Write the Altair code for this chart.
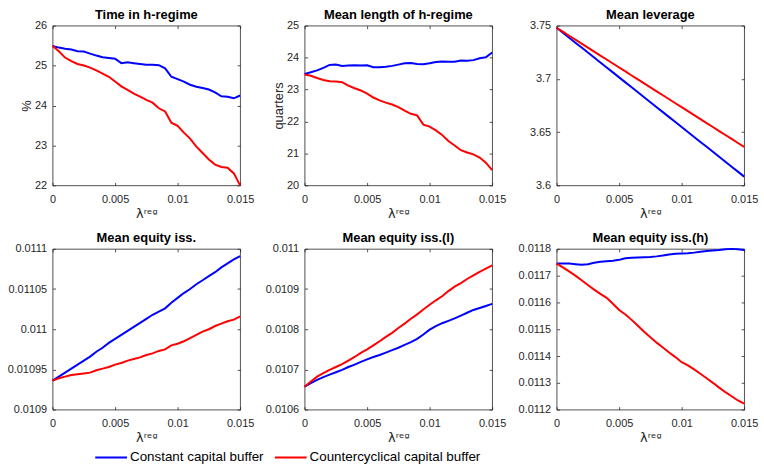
import altair as alt
import pandas as pd

# ---------------- data ----------------
X = [0, 0.0005, 0.001, 0.0015, 0.002, 0.0025, 0.003, 0.0035, 0.004, 0.0045,
     0.005, 0.0055, 0.006, 0.0065, 0.007, 0.0075, 0.008, 0.0085, 0.009, 0.0095,
     0.01, 0.0105, 0.011, 0.0115, 0.012, 0.0125, 0.013, 0.0135, 0.014, 0.0145, 0.015]
SERIES = ["Constant capital buffer", "Countercyclical capital buffer"]
COLORS = ["#0000ff", "#ff0000"]
XTICKS = [0, 0.005, 0.01, 0.015]

TIME_CONST = [25.49, 25.45, 25.42, 25.40, 25.36, 25.35, 25.30, 25.25, 25.21, 25.19,
              25.17, 25.06, 25.08, 25.06, 25.04, 25.02, 25.02, 25.01, 24.93, 24.72,
              24.66, 24.60, 24.52, 24.47, 24.44, 24.40, 24.33, 24.23, 24.22, 24.18, 24.25]
TIME_CCB = [25.49, 25.36, 25.20, 25.11, 25.04, 25.00, 24.95, 24.88, 24.80, 24.72,
            24.60, 24.48, 24.39, 24.30, 24.22, 24.14, 24.07, 23.93, 23.85, 23.57,
            23.49, 23.32, 23.17, 22.97, 22.81, 22.65, 22.52, 22.46, 22.44, 22.30, 22.00]

LEN_CONST = [23.49, 23.54, 23.60, 23.68, 23.77, 23.78, 23.74, 23.75, 23.76, 23.75,
             23.76, 23.70, 23.70, 23.71, 23.74, 23.78, 23.82, 23.83, 23.80, 23.79,
             23.82, 23.86, 23.88, 23.87, 23.87, 23.91, 23.90, 23.92, 23.98, 24.01, 24.16]
LEN_CCB = [23.47, 23.43, 23.36, 23.30, 23.26, 23.25, 23.23, 23.12, 23.04, 22.97,
           22.87, 22.75, 22.66, 22.59, 22.53, 22.45, 22.34, 22.24, 22.19, 21.90,
           21.84, 21.72, 21.58, 21.39, 21.25, 21.10, 21.03, 20.97, 20.87, 20.71, 20.48]

LEV_CONST = [3.7480, 3.7433, 3.7387, 3.7340, 3.7294, 3.7247, 3.7200, 3.7154, 3.7107, 3.7061,
             3.7014, 3.6967, 3.6921, 3.6874, 3.6828, 3.6781, 3.6734, 3.6688, 3.6641, 3.6595,
             3.6548, 3.6501, 3.6455, 3.6408, 3.6362, 3.6315, 3.6268, 3.6222, 3.6175, 3.6129, 3.6082]
LEV_CCB = [3.7480, 3.7443, 3.7405, 3.7368, 3.7331, 3.7294, 3.7256, 3.7219, 3.7182, 3.7144,
           3.7107, 3.7070, 3.7032, 3.6995, 3.6958, 3.6921, 3.6883, 3.6846, 3.6809, 3.6771,
           3.6734, 3.6697, 3.6659, 3.6622, 3.6585, 3.6548, 3.6510, 3.6473, 3.6436, 3.6398, 3.6361]

EQ_CONST = [0.010936, 0.010941, 0.010946, 0.010951, 0.010956, 0.010961, 0.010966, 0.010972,
            0.010977, 0.010983, 0.010988, 0.010993, 0.010998, 0.011003, 0.011008, 0.011013,
            0.011018, 0.011022, 0.011026, 0.011033, 0.011039, 0.011045, 0.011050, 0.011056,
            0.011061, 0.011066, 0.011071, 0.011077, 0.011082, 0.011087, 0.011091]
EQ_CCB = [0.010936, 0.010939, 0.010941, 0.010943, 0.010944, 0.010945, 0.010946, 0.010949,
          0.010951, 0.010953, 0.010956, 0.010958, 0.010961, 0.010963, 0.010965, 0.010968,
          0.010970, 0.010973, 0.010975, 0.010980, 0.010982, 0.010985, 0.010989, 0.010993,
          0.010997, 0.011000, 0.011004, 0.011007, 0.011010, 0.011012, 0.011016]

EQL_CONST = [0.010657, 0.010666, 0.010674, 0.010681, 0.010687, 0.010693, 0.010699, 0.010706,
             0.010712, 0.010719, 0.010725, 0.010731, 0.010736, 0.010742, 0.010748, 0.010754,
             0.010761, 0.010768, 0.010776, 0.010787, 0.010799, 0.010808, 0.010815, 0.010821,
             0.010827, 0.010834, 0.010841, 0.010848, 0.010853, 0.010858, 0.010863]
EQL_CCB = [0.010657, 0.010670, 0.010682, 0.010691, 0.010699, 0.010706, 0.010713, 0.010722,
           0.010731, 0.010741, 0.010750, 0.010760, 0.010770, 0.010781, 0.010791, 0.010803,
           0.010814, 0.010826, 0.010837, 0.010849, 0.010861, 0.010872, 0.010882, 0.010895,
           0.010906, 0.010915, 0.010925, 0.010934, 0.010943, 0.010951, 0.010959]

EQH_CONST = [0.011745, 0.011745, 0.011745, 0.011743, 0.011741, 0.011743, 0.011748, 0.011752,
             0.011754, 0.011756, 0.011759, 0.011765, 0.011767, 0.011768, 0.011769, 0.011770,
             0.011772, 0.011775, 0.011779, 0.011782, 0.011783, 0.011784, 0.011786, 0.011789,
             0.011792, 0.011794, 0.011796, 0.011799, 0.011800, 0.011799, 0.011796]
EQH_CCB = [0.011745, 0.011731, 0.011716, 0.011700, 0.011683, 0.011665, 0.011648, 0.011632,
           0.011617, 0.011595, 0.011572, 0.011555, 0.011535, 0.011513, 0.011491, 0.011470,
           0.011450, 0.011432, 0.011413, 0.011396, 0.011377, 0.011365, 0.011350, 0.011334,
           0.011317, 0.011300, 0.011282, 0.011265, 0.011250, 0.011234, 0.011222]

TITLES = ["Time in h-regime", "Mean length of h-regime", "Mean leverage",
          "Mean equity iss.", "Mean equity iss.(l)", "Mean equity iss.(h)"]
Y_TITLES = ["%", "quarters", None, None, None, None]
Y_DOMAINS = [[22, 26], [20, 25], [3.6, 3.75], [0.0109, 0.0111], [0.0106, 0.011], [0.0112, 0.0118]]
Y_TICKS = [
    [22, 23, 24, 25, 26],
    [20, 21, 22, 23, 24, 25],
    [3.6, 3.65, 3.7, 3.75],
    [0.0109, 0.01095, 0.011, 0.01105, 0.0111],
    [0.0106, 0.0107, 0.0108, 0.0109, 0.011],
    [0.0112, 0.0113, 0.0114, 0.0115, 0.0116, 0.0117, 0.0118],
]
PANEL_DATA = [(TIME_CONST, TIME_CCB), (LEN_CONST, LEN_CCB), (LEV_CONST, LEV_CCB),
              (EQ_CONST, EQ_CCB), (EQL_CONST, EQL_CCB), (EQH_CONST, EQH_CCB)]

# ---------------- style ----------------
AX = "#262626"
FONT = "Liberation Sans"
W = 189
HEIGHTS = [161, 161, 161, 162, 162, 162]
NUMFMT = ".6~g"


def make_frame(const, ccb):
    return pd.DataFrame({
        "x": X + X,
        "value": const + ccb,
        "series": [SERIES[0]] * len(X) + [SERIES[1]] * len(X),
    })


def panel(i):
    const, ccb = PANEL_DATA[i]
    data = make_frame(const, ccb)
    xs = alt.Scale(domain=[0, 0.015], nice=False, zero=False)
    ys = alt.Scale(domain=Y_DOMAINS[i], nice=False, zero=False)
    tick_kw = dict(domain=False, grid=False, tickSize=3, offset=-3,
                   tickColor=AX, tickWidth=0.8, labelFlush=False, labelOverlap=False,
                   minExtent=0)
    x_axis = alt.Axis(values=XTICKS, format=NUMFMT, labelFont=FONT, labelFontSize=11,
                      labelColor=AX, labelPadding=8, title="λʳᵉᵍ",
                      titleFont="DejaVu Sans", titleFontSize=13, titleFontWeight="normal",
                      titleColor=AX, titlePadding=3, **tick_kw)
    y_kw = dict(values=Y_TICKS[i], format=NUMFMT, labelFont=FONT, labelFontSize=11,
                labelColor=AX, labelPadding=6, **tick_kw)
    if Y_TITLES[i]:
        y_axis = alt.Axis(title=Y_TITLES[i], titleFont=FONT, titleFontSize=13,
                          titleFontWeight="normal", titleColor=AX, titlePadding=1.5, **y_kw)
    else:
        y_axis = alt.Axis(title=None, **y_kw)

    if i == 0:
        legend = alt.Legend(orient="none", legendX=42, legendY=418, direction="horizontal",
                            title=None, symbolType="stroke", symbolSize=1024,
                            symbolStrokeWidth=2, labelFont=FONT, labelFontSize=13.5,
                            labelColor="black", labelOffset=2, columnPadding=7,
                            labelLimit=400)
        color = alt.Color("series:N", scale=alt.Scale(domain=SERIES, range=COLORS), legend=legend)
    else:
        color = alt.Color("series:N", scale=alt.Scale(domain=SERIES, range=COLORS), legend=None)

    main = alt.Chart(data).mark_line(strokeWidth=2, clip=False).encode(
        x=alt.X("x:Q", scale=xs, axis=x_axis),
        y=alt.Y("value:Q", scale=ys, axis=y_axis),
        color=color,
    )
    ghost = alt.Chart(data).mark_line(opacity=0).encode(
        x=alt.X("x:Q", scale=xs, axis=alt.Axis(orient="top", values=XTICKS, labels=False,
                                               title=None, maxExtent=0, **tick_kw)),
        y=alt.Y("value:Q", scale=ys, axis=alt.Axis(orient="right", values=Y_TICKS[i],
                                                   labels=False, title=None, maxExtent=0,
                                                   **tick_kw)),
        detail="series:N",
    )
    return alt.layer(main, ghost).resolve_axis(x="independent", y="independent").properties(
        width=W, height=HEIGHTS[i],
        title=alt.TitleParams(TITLES[i], font=FONT, fontSize=13, fontWeight="bold",
                              color="black", anchor="middle", frame="group", offset=-2),
    )


chart = alt.concat(*[panel(i) for i in range(6)], columns=3).properties(
    spacing={"row": 64, "column": 65},
    bounds="flush",
    padding={"left": 6, "top": 6, "right": 5, "bottom": 0},
    background="white",
).configure_view(stroke=AX, strokeWidth=0.8)

chart.save("out.html", embed_options={"renderer": "svg", "actions": False})
